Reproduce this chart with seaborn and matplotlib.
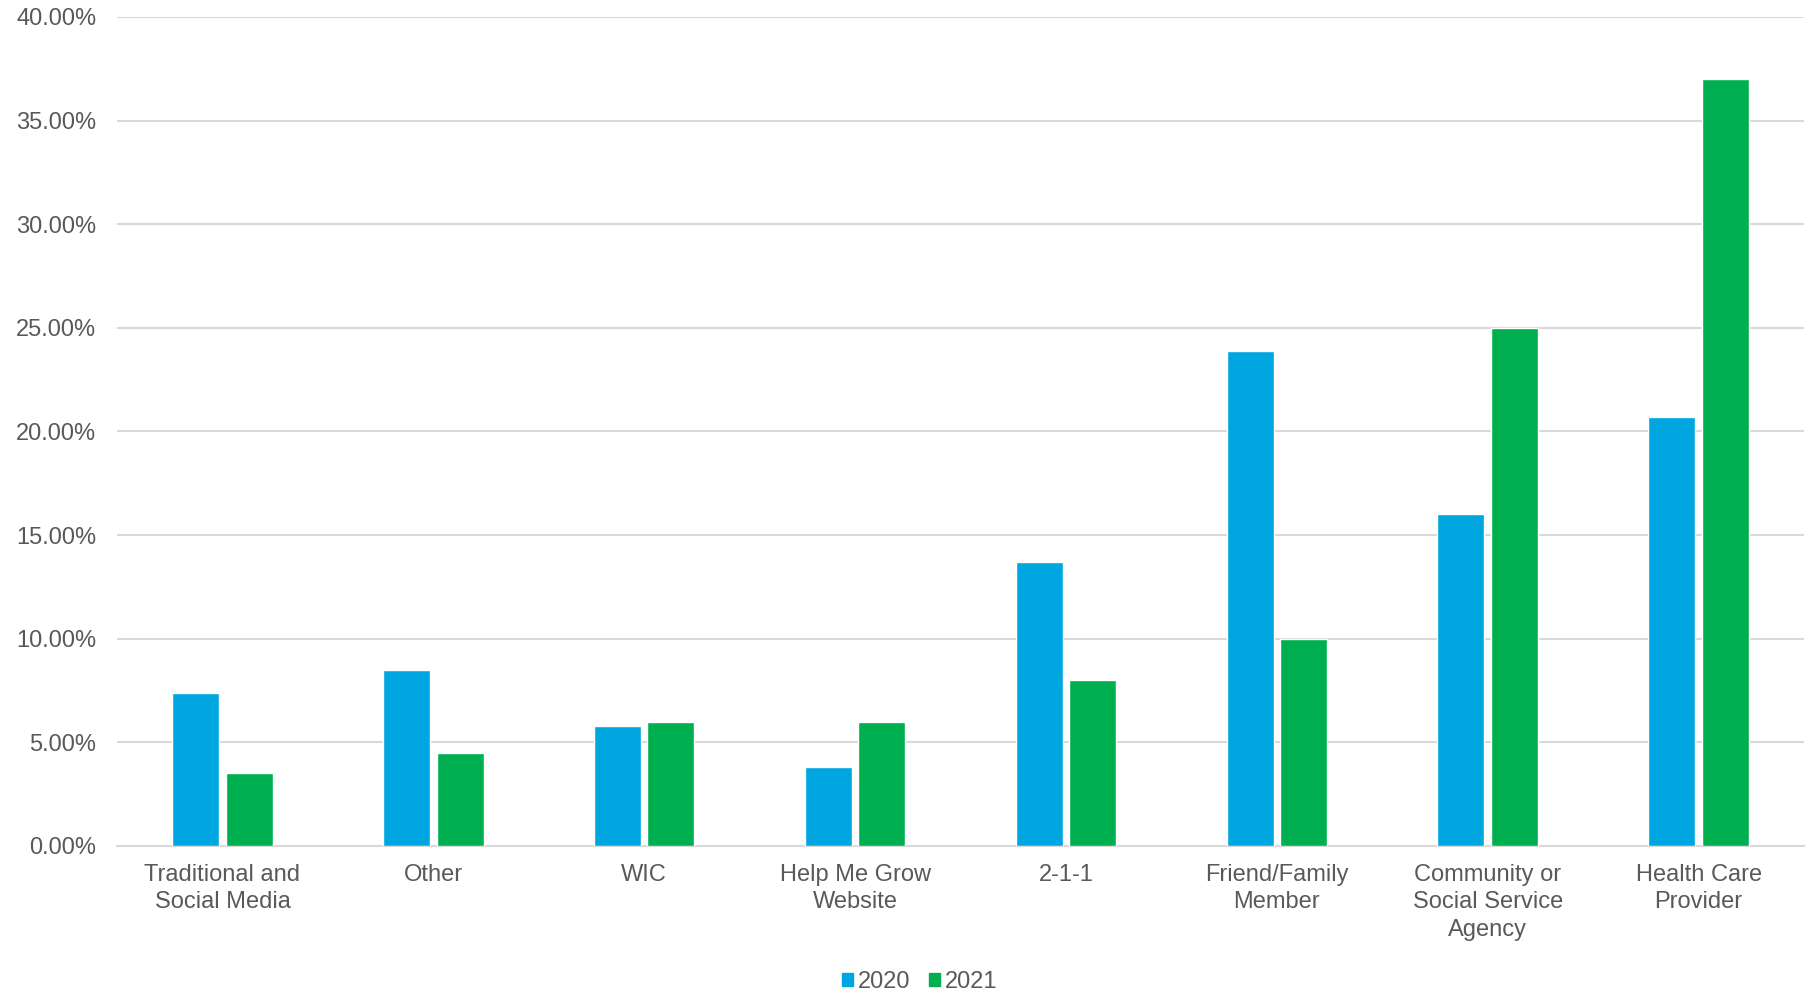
import pandas as pd
import matplotlib.pyplot as plt
import seaborn as sns
from matplotlib.ticker import FuncFormatter, MultipleLocator
from matplotlib.patches import Patch

categories = ['Traditional and\nSocial Media', 'Other', 'WIC', 'Help Me Grow\nWebsite', '2-1-1',
              'Friend/Family\nMember', 'Community or\nSocial Service\nAgency', 'Health Care\nProvider']
years = ['2020', '2021']
vals_2020 = [7.4, 8.5, 5.8, 3.8, 13.7, 23.9, 16.0, 20.7]
vals_2021 = [3.5, 4.5, 6.0, 6.0, 8.0, 10.0, 25.0, 37.0]
colors = ['#00A6E0', '#00B050']

df = pd.DataFrame({
   'cat': categories * 2,
   'year': [years[0]] * len(categories) + [years[1]] * len(categories),
   'val': vals_2020 + vals_2021,
})

sns.set_style('white')
plt.rcParams['font.family'] = ['Liberation Sans', 'DejaVu Sans']
txt = '#595959'

fig = plt.figure(figsize=(18.14, 9.94), dpi=100)
ax = fig.add_axes([0.0645, 0.149, 0.930, 0.834])

sns.barplot(data=df, x='cat', y='val', hue='year', palette=colors, width=0.507, gap=0.12,
            saturation=1, ax=ax, legend=False, zorder=3)

ax.set_ylim(0, 40)
ax.yaxis.set_major_locator(MultipleLocator(5))
ax.yaxis.set_major_formatter(FuncFormatter(lambda v, p: f'{v:.2f}%'))
ax.grid(axis='y', color='#D9D9D9', linewidth=1.5, zorder=0)
ax.set_axisbelow(True)
for s in ['left', 'right', 'top']:
   ax.spines[s].set_visible(False)
ax.spines['bottom'].set_color('#D9D9D9')
ax.spines['bottom'].set_linewidth(1.5)
ax.tick_params(axis='both', length=0, labelsize=17, colors=txt)
ax.tick_params(axis='y', pad=15)
ax.tick_params(axis='x', pad=13)
ax.set_xlim(-0.5, len(categories) - 0.5)
ax.set_xlabel('')
ax.set_ylabel('')
for lab in ax.get_xticklabels():
   lab.set_linespacing(1.32)

handles = [Patch(color=c, label=y) for c, y in zip(colors, years)]
fig.legend(handles=handles, loc='center', bbox_to_anchor=(0.507, 0.012), ncol=2, frameon=False,
           fontsize=17, labelcolor=txt, handlelength=0.47, handleheight=0.47, handletextpad=0.22,
           columnspacing=0.75)

fig.savefig('out.png', dpi=100)
